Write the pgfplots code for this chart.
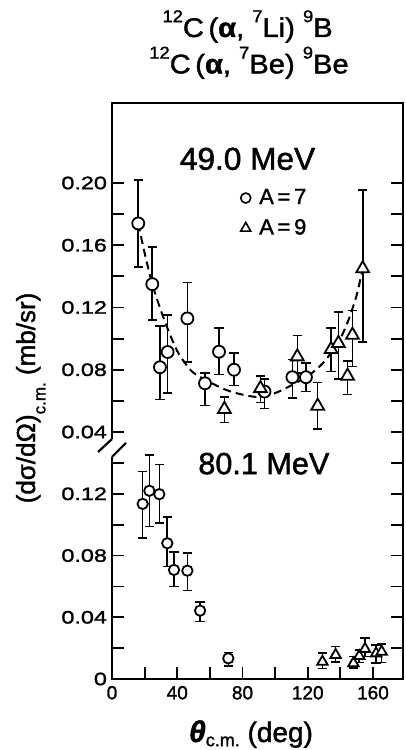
\documentclass[border=0pt]{standalone}
\usepackage{fontspec}
\setmainfont{Liberation Sans}[FakeBold=1.5]
\newfontfamily\ytickfont{Liberation Sans}[FakeStretch=1.3, FakeBold=1.5]
\newfontfamily\titlefont{Liberation Sans}[FakeStretch=1.08, FakeBold=1.5]
\usepackage{pgfplots}
\pgfplotsset{compat=1.18}
\usepackage{pgfplotstable}

% 49.0 MeV, A=7 (circles): angle, value, error bar low, error bar high
\pgfplotstableread{
x y lo hi
16.1 0.174 0.146 0.202
24.7 0.135 0.112 0.159
29.4 0.0816 0.061 0.108
34.1 0.0914 0.065 0.115
46.2 0.113 0.085 0.136
57.0 0.0713 0.057 0.078
65.6 0.0916 0.077 0.107
74.8 0.080 0.070 0.0906
93.5 0.066 0.055 0.074
110.6 0.0752 0.062 0.0867
118.9 0.0752 0.066 0.0845
}\hiseven

% 49.0 MeV, A=9 (triangles)
\pgfplotstableread{
x y lo hi
68.9 0.0546 0.046 0.0623
91.0 0.068 0.059 0.076
113.6 0.0884 0.078 0.102
126.1 0.0567 0.042 0.0717
134.3 0.0931 0.079 0.107
138.8 0.097 0.074 0.117
144.4 0.076 0.064 0.0856
147.4 0.1023 0.082 0.118
153.7 0.145 0.098 0.1955
}\hinine

% dashed curve, 49.0 MeV
\pgfplotstableread{
x y
16.1 0.174
20 0.155
24.7 0.135
30 0.118
35 0.104
40 0.092
45 0.084
50 0.078
60 0.072
70 0.067
80 0.064
90 0.0625
100 0.065
110 0.070
120 0.076
125 0.080
130 0.085
135 0.092
140 0.100
145 0.112
150 0.128
153.7 0.145
}\hifit

% 80.1 MeV, A=7
\pgfplotstableread{
x y lo hi
18.8 0.1135 0.0912 0.1345
22.9 0.122 0.0988 0.145
29.0 0.1198 0.101 0.139
33.9 0.088 0.0728 0.105
38.0 0.0707 0.0599 0.0822
46.2 0.0702 0.0573 0.0815
54.0 0.0443 0.0372 0.050
71.3 0.0134 0.0084 0.0173
}\loseven

% 80.1 MeV, A=9
\pgfplotstableread{
x y lo hi
129.0 0.0112 0.0069 0.0167
137.1 0.0156 0.0112 0.021
148.0 0.0102 0.007 0.0145
151.6 0.0149 0.0106 0.0188
155.1 0.0195 0.0145 0.0264
161.9 0.0166 0.0102 0.022
165.3 0.0177 0.0106 0.0227
}\lonine

\pgfplotsset{
  panel/.style={
    scale only axis, width=145.5pt, xmin=0, xmax=178.4,
    axis line style={draw=none},
    tick align=inside,
    major tick length=5.8pt, minor tick length=5.8pt,
    tick style={line width=0.9pt, black},
    xticklabel style={font=\fontsize{9.5}{11}\selectfont},
    yticklabel style={font=\ytickfont\fontsize{9}{11}\selectfont, xshift=1pt},
    clip=false,
  },
  errs/.style={
    only marks,
    error bars/y dir=both, error bars/y explicit,
    error bars/error bar style={line width=0.8pt},
    error bars/error mark options={rotate=90, line width=0.8pt, mark size=2.3pt},
  },
  circ/.style={mark=*, mark size=#1, mark options={fill=white, draw=black, line width=0.9pt}},
  tri/.style={mark=triangle*, mark size=#1, mark options={fill=white, draw=black, line width=0.9pt}},
}

\newcommand\up[1]{\raisebox{0.55em}{\fontsize{8.5}{9}\selectfont #1}}

\begin{document}
\begin{tikzpicture}
% upper panel, 49.0 MeV
\begin{axis}[panel, at={(56pt,159pt)}, anchor=south west, height=164.5pt,
  ymin=0.04, ymax=0.2514,
  xtick=\empty,
  ytick={0.04,0.08,0.12,0.16,0.20},
  yticklabels={0.04,0.08,0.12,0.16,0.20},
  minor ytick={0.06,0.10,0.14,0.18},
  legend style={draw=none, fill=none, at={(axis cs:78,0.199)}, anchor=north west,
    font=\fontsize{11}{13}\selectfont, row sep=2pt, inner sep=0pt},
  legend cell align=left,
  legend image code/.code={\draw[#1] plot coordinates {(0.1cm,0cm)}; \path (0cm,0cm) (0.26cm,0cm);},
]
\addlegendimage{only marks, mark=o, mark size=2.5pt, mark options={line width=0.8pt}}
\addlegendentry{A\,=\,7}
\addlegendimage{only marks, mark=triangle, mark size=2.9pt, mark options={line width=0.8pt}}
\addlegendentry{A\,=\,9}

\addplot[forget plot, smooth, line width=1pt, dash pattern=on 4pt off 2.5pt] table[x=x,y=y] {\hifit};
\addplot[forget plot, errs, circ=3pt] table[x=x, y=y,
  y error plus expr=\thisrow{hi}-\thisrow{y}, y error minus expr=\thisrow{y}-\thisrow{lo}] {\hiseven};
\addplot[forget plot, errs, tri=3.7pt] table[x=x, y=y,
  y error plus expr=\thisrow{hi}-\thisrow{y}, y error minus expr=\thisrow{y}-\thisrow{lo}] {\hinine};

\node[font=\fontsize{15.8}{18}\selectfont] at (axis cs:83.1,0.2155) {49.0 MeV};

\draw[line width=1.1pt] (axis cs:0,0.0355) -- (rel axis cs:0,1) -- (rel axis cs:1,1) -- (rel axis cs:1,0) -- ++(0,-15.5pt);
\draw[line width=1.1pt] (axis cs:0,0.0355) -- ++(-7pt,-6.5pt);
\end{axis}

% lower panel, 80.1 MeV
\begin{axis}[panel, at={(56pt,35.5pt)}, anchor=south west, height=108pt,
  ymin=0, ymax=0.14,
  xtick={0,40,80,120,160}, minor xtick={20,60,100,140},
  xticklabels={0,40,80,120,160},
  xtick pos=bottom,
  ytick={0,0.04,0.08,0.12},
  yticklabels={0,0.04,0.08,0.12},
  minor ytick={0.02,0.06,0.10,0.14},
]
\addplot[errs, circ=2.6pt] table[x=x, y=y,
  y error plus expr=\thisrow{hi}-\thisrow{y}, y error minus expr=\thisrow{y}-\thisrow{lo}] {\loseven};
\addplot[errs, tri=3pt] table[x=x, y=y,
  y error plus expr=\thisrow{hi}-\thisrow{y}, y error minus expr=\thisrow{y}-\thisrow{lo}] {\lonine};

\node[font=\fontsize{15.3}{18}\selectfont] at (axis cs:93.1,0.1396) {80.1 MeV};

\draw[line width=1.1pt] (axis cs:0,0.144) -- (rel axis cs:0,0) -- (rel axis cs:1,0) -- (rel axis cs:1,1);
\draw[line width=1.1pt] (axis cs:0,0.144) -- ++(7pt,7pt);
\end{axis}

% titles and axis labels
\node[anchor=base, font=\titlefont\fontsize{13.5}{16}\selectfont] at (123.8pt,356.5pt)
  {\up{12}C\,(\textbf{α},\ \up{7}Li)\ \up{9}B};
\node[anchor=base, font=\titlefont\fontsize{13.5}{16}\selectfont] at (124.5pt,338.3pt)
  {\up{12}C\,(\textbf{α},\ \up{7}Be)\ \up{9}Be};
\node[anchor=base, rotate=90, font=\fontsize{13}{15}\selectfont] at (17.5pt,176pt)
  {(dσ/dΩ)\raisebox{-0.4em}{\fontsize{8.5}{9}\selectfont c.m.}\ (mb/sr)};
\node[anchor=base, font=\fontsize{14}{16}\selectfont] at (125.5pt,4pt)
  {{\fontsize{15}{16}\selectfont\bfseries\itshape θ}\raisebox{-0.15em}{\fontsize{9}{9}\selectfont c.m.}\ (deg)};

\pgfresetboundingbox
\path[use as bounding box] (0,0) rectangle (203pt,375pt);
\end{tikzpicture}
\end{document}
